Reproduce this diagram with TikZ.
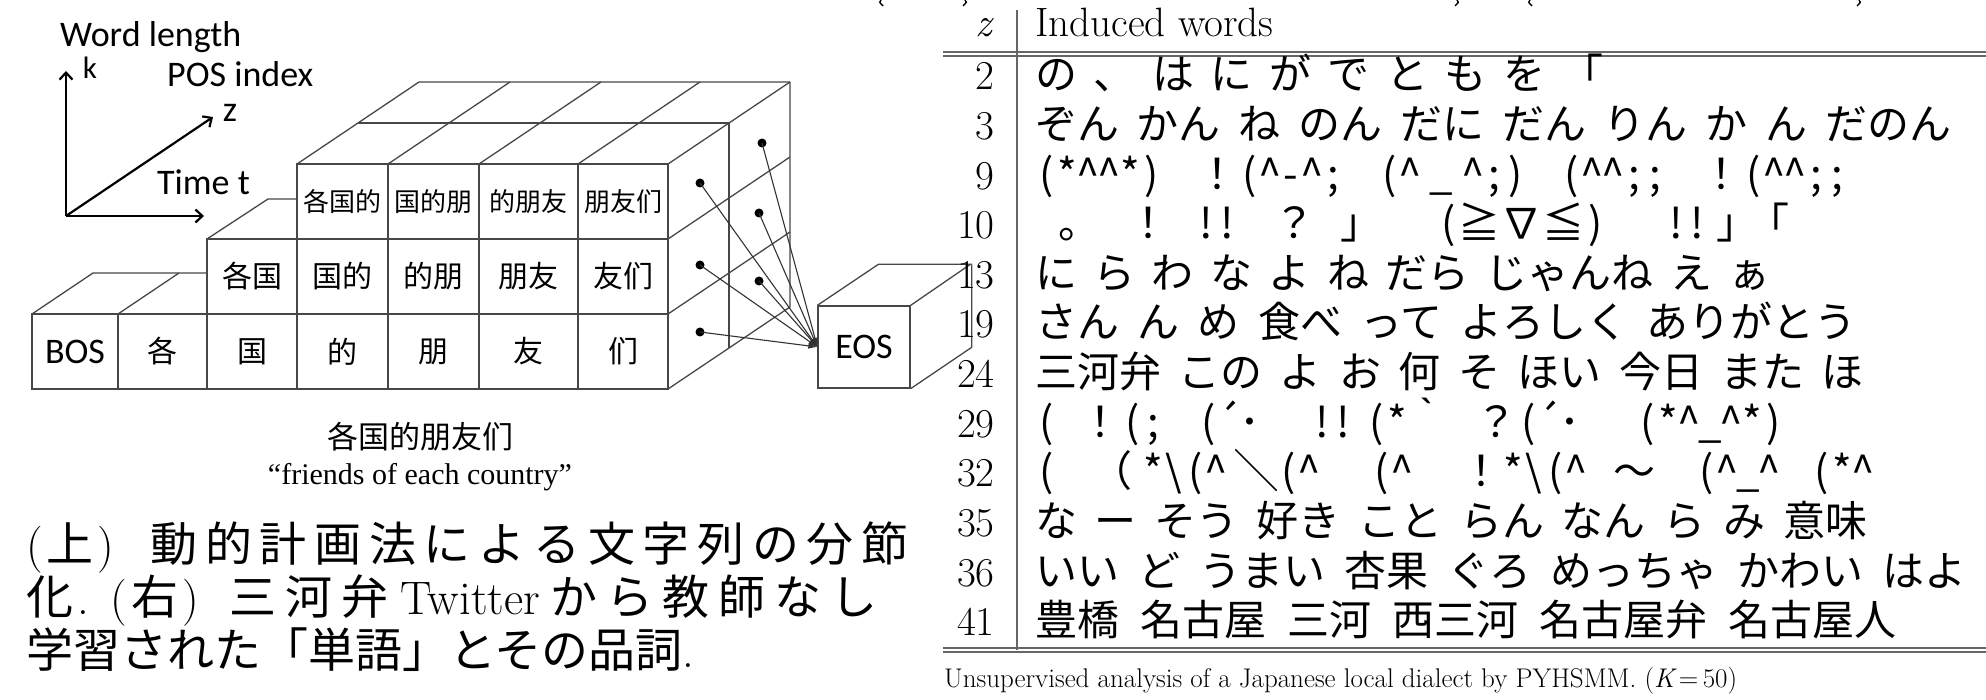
\documentclass[tikz,border=0pt]{standalone}
\usepackage{fontspec}
\usetikzlibrary{arrows.meta}
\newfontfamily\cjk{Noto Sans CJK SC}
\newfontfamily\jp{Noto Sans CJK JP}
\newfontfamily\calfont{Carlito}
\newfontfamily\tnr{Liberation Serif}
\newcommand\crt{\char"5E\relax}
\newcommand\gapA{\hspace{7.7pt}}
\newcommand\gapB{\hspace{9pt}}
\newcommand\sps[1]{\spaceskip=#1pt\relax\xspaceskip=#1pt\relax}
% fixed-width cells for the emoticon rows
\newcommand\fw[1]{\makebox[42pt]{#1}}
\def\hwloop#1{\ifx#1\relax\else\makebox[21pt]{#1}\expandafter\hwloop\fi}
\newcommand\hwl[1]{\hwloop#1\relax}
\newcommand\putat[2]{\makebox[0pt][l]{\hspace{#1pt}#2}}
\tikzset{
  cubeline/.style={draw=black!72, line width=1.3pt},
  cellbox/.style={cubeline, rectangle, inner sep=0pt, minimum height=75pt, font=\cjk\fontsize{30}{34}\selectfont},
  cellboxs/.style={cellbox, font=\cjk\fontsize{26}{30}\selectfont},
  axis/.style={line width=2.2pt, -{Straight Barb[length=7pt,width=13pt,line width=2.2pt]}},
  lab/.style={font=\calfont\fontsize{36}{40}\selectfont, inner sep=0pt},
  dot/.style={circle, fill=black, inner sep=0pt, minimum size=9pt},
  conn/.style={draw=black!80, line width=1.1pt, -{Latex[length=9pt,width=6pt]}},
  numcell/.style={font=\fontsize{41}{45}\selectfont, inner sep=0pt, anchor=base east},
  wordcell/.style={font=\jp\fontsize{42}{46}\selectfont, inner sep=0pt, anchor=base west},
  rule/.style={draw=black!60, line width=1.2pt},
  capline/.style={font=\fontsize{47}{53}\selectfont, inner sep=0pt, anchor=base west},
  frag/.style={draw=black, line width=1.4pt},
}
\begin{document}
\begin{tikzpicture}[x=1pt,y=-1pt]
\useasboundingbox (0,0) rectangle (1986,700);
% ---------- axes ----------
\coordinate (o) at (66,216);
\coordinate (ka) at (66,71);
\coordinate (ta) at (204,216);
\coordinate (za) at (213,117);
\draw[axis] (o) -- (ka);
\draw[axis] (o) -- (ta);
\draw[axis] (o) -- (za);
\node[lab, anchor=base west] (wl) at (60,47) {Word length};
\node[lab, anchor=base, font=\calfont\fontsize{31}{34}\selectfont] (kl) at (90,79) {k};
\node[lab, anchor=base west] (pl) at (167,87) {POS index};
\node[lab, anchor=base] (zl) at (230,122) {z};
\node[lab, anchor=base west] (tl) at (157,195) {Time t};
% ---------- row 1 ----------
\node[cellbox, minimum width=86pt, font=\calfont\fontsize{36}{40}\selectfont] (bos) at (75,351.5) {BOS};
\node[cellbox, minimum width=89pt] (r1c2) at (162.5,351.5) {各};
\node[cellbox, minimum width=90pt] (r1c3) at (252,351.5) {国};
\node[cellbox, minimum width=91pt] (r1c4) at (342.5,351.5) {的};
\node[cellbox, minimum width=91pt] (r1c5) at (433.5,351.5) {朋};
\node[cellbox, minimum width=99pt] (r1c6) at (528.5,351.5) {友};
\node[cellbox, minimum width=90pt] (r1c7) at (623,351.5) {们};
% ---------- row 2 ----------
\node[cellbox, minimum width=90pt] (r2c3) at (252,276.5) {各国};
\node[cellbox, minimum width=91pt] (r2c4) at (342.5,276.5) {国的};
\node[cellbox, minimum width=91pt] (r2c5) at (433.5,276.5) {的朋};
\node[cellbox, minimum width=99pt] (r2c6) at (528.5,276.5) {朋友};
\node[cellbox, minimum width=90pt] (r2c7) at (623,276.5) {友们};
% ---------- row 3 ----------
\node[cellboxs, minimum width=91pt] (r3c4) at (342.5,201.5) {各国的};
\node[cellboxs, minimum width=91pt] (r3c5) at (433.5,201.5) {国的朋};
\node[cellboxs, minimum width=99pt] (r3c6) at (528.5,201.5) {的朋友};
\node[cellboxs, minimum width=90pt] (r3c7) at (623,201.5) {朋友们};
% ---------- top faces ----------
\draw[cubeline] (297,164) -- (419,82) -- (790,82);
\draw[cubeline] (358,123) -- (729,123);
\draw[cubeline] (388,164) -- (510,82);
\draw[cubeline] (479,164) -- (601,82);
\draw[cubeline] (578,164) -- (700,82);
\draw[cubeline] (668,164) -- (790,82);
\draw[cubeline] (207,239) -- (268,199) -- (297,199);
\draw[cubeline] (32,314) -- (93,273) -- (207,273);
\draw[cubeline] (118,314) -- (179,273);
% ---------- right face ----------
\draw[cubeline] (668,389) -- (790,307) -- (790,82);
\draw[cubeline] (729,123) -- (729,348);
\draw[cubeline] (668,239) -- (790,157);
\draw[cubeline] (668,314) -- (790,232);
% ---------- EOS ----------
\node[cubeline, rectangle, inner sep=0pt, minimum width=92pt, minimum height=82pt,
      font=\calfont\fontsize{36}{40}\selectfont] (eos) at (864,347) {EOS};
\draw[cubeline] (eos.north west) -- ++(61,-41) -- ++(92,0) -- (eos.north east);
\draw[cubeline] (eos.north east) ++(61,-41) -- ++(0,83) -- (eos.south east);
% ---------- dots and connectors ----------
\node[dot] (p1) at (700,183) {};
\node[dot] (p2) at (762,143) {};
\node[dot] (p3) at (759,213) {};
\node[dot] (p4) at (700,265) {};
\node[dot] (p5) at (759,281) {};
\node[dot] (p6) at (700,332) {};
\foreach \p in {p1,p2,p3,p4,p5,p6} \draw[conn] (\p.center) -- (eos.west);
% ---------- cube caption ----------
\node[inner sep=0pt, font=\cjk\fontsize{31}{35}\selectfont] (cap1) at (420,437) {各国的朋友们};
\node[inner sep=0pt, anchor=base, font=\tnr\fontsize{30}{34}\selectfont] (cap2) at (420,484) {“friends of each country”};
% ---------- bottom-left caption ----------
\node[capline] (l1) at (26,561) {(\hspace{4pt}{\jp 上}\hspace{4pt})\hspace{36pt}{\jp 動\gapA 的\gapA 計\gapA 画\gapA 法\gapA に\gapA よ\gapA る\gapA 文\gapA 字\gapA 列\gapA の\gapA 分\gapA 節}};
\node[capline] (l2) at (26,614) {{\jp 化}\hspace{4pt}.\hspace{22pt}(\hspace{4pt}{\jp 右}\hspace{4pt})\hspace{30pt}{\jp 三\gapB 河\gapB 弁}\hspace{12pt}Twitter\hspace{10pt}{\jp か\gapB ら\gapB 教\gapB 師\gapB な\gapB し}};
\node[capline] (l3) at (26,667) {{\jp 学習された「単語」とその品詞}.};
% ---------- bottoms of a cut-off line above the table ----------
\draw[frag] (881,0) .. controls (879,2) .. (883,6);
\draw[frag] (965,0) .. controls (967,2) .. (963,6);
\draw[frag] (1457,0) .. controls (1459,2) .. (1455,6);
\draw[frag] (1530,0) .. controls (1528,2) .. (1532,6);
\draw[frag] (1859,0) .. controls (1861,2) .. (1857,6);
% ---------- table ----------
\draw[rule] (1017,10) -- (1017,650);
\draw[rule] (943,52) -- (1986,52);
\draw[rule] (943,56) -- (1986,56);
\draw[rule] (943,648) -- (1986,648);
\draw[rule] (943,652) -- (1986,652);
\node[numcell] (hz) at (992,37) {\itshape z};
\node[numcell, anchor=base west] (hw) at (1035,37) {Induced words};
\node[numcell] (n1) at (995,90) {2};
\node[wordcell] (w1) at (1035,90) {\sps{16.5}の 、 は に が で と も を 「};
\node[numcell] (n2) at (995,139.6) {3};
\node[wordcell] (w2) at (1035,139.6) {\sps{17.8}ぞん かん ね のん だに だん りん か ん だのん};
\node[numcell] (n3) at (995,189.2) {9};
\node[wordcell] (w3) at (1035,189.2) {\putat{0}{\hwl{(*\crt\crt*)}}\putat{161}{\fw{！}\hwl{(\crt-\crt;}}\putat{343}{\hwl{(\crt}\fw{\_}\hwl{\crt;)}}\putat{525}{\hwl{(\crt\crt;;}}\putat{665}{\fw{！}\hwl{(\crt\crt;;}}\hspace{812pt}};
\node[numcell] (n4) at (995,238.8) {10};
\node[wordcell] (w4) at (1035,238.8) {\putat{23}{\fw{。}}\putat{92}{\fw{！}}\putat{160}{\hwl{!!}}\putat{238}{\fw{？}}\putat{305}{\fw{」}}\putat{402}{\hwl{(}\fw{≧}\fw{∇}\fw{≦}\hwl{)}}\putat{630}{\hwl{!!}}\putat{681}{\fw{」}}\putat{712}{\fw{「}}\hspace{754pt}};
\node[numcell] (n5) at (995,288.4) {13};
\node[wordcell] (w5) at (1035,288.4) {\sps{16.4}に ら わ な よ ね だら じゃんね え ぁ};
\node[numcell] (n6) at (995,338) {19};
\node[wordcell] (w6) at (1035,338) {\sps{18.3}さん ん め 食べ って よろしく ありがとう};
\node[numcell] (n7) at (995,387.6) {24};
\node[wordcell] (w7) at (1035,387.6) {\sps{17.4}三河弁 この よ お 何 そ ほい 今日 また ほ};
\node[numcell] (n8) at (995,437.2) {29};
\node[wordcell] (w8) at (1035,437.2) {\putat{0}{\hwl{(}}\putat{44}{\fw{！}\hwl{(;}}\putat{162}{\hwl{(´･}}\putat{276}{\hwl{!!}}\putat{330}{\hwl{(*}\fw{｀}}\putat{440}{\fw{？}\hwl{(´･}}\putat{601}{\hwl{(*\crt\_\crt*)}}\hspace{748pt}};
\node[numcell] (n9) at (995,486.8) {32};
\node[wordcell] (w9) at (1035,486.8) {\putat{0}{\hwl{(}}\putat{55}{\fw{（}}\putat{107}{\hwl{*\textbackslash(\crt}}\putat{200}{\fw{╲}\hwl{(\crt}}\putat{335}{\hwl{(\crt}}\putat{425}{\fw{！}\hwl{*\textbackslash(\crt}}\putat{578}{\fw{〜}}\putat{660}{\hwl{(\crt\_\crt}}\putat{775}{\hwl{(*\crt}}\hspace{838pt}};
\node[numcell] (n10) at (995,536.4) {35};
\node[wordcell] (w10) at (1035,536.4) {\sps{17.8}な ー そう 好き こと らん なん ら み 意味};
\node[numcell] (n11) at (995,586) {36};
\node[wordcell] (w11) at (1035,586) {\sps{19}いい ど うまい 杏果 ぐろ めっちゃ かわい はよ};
\node[numcell] (n12) at (995,635.6) {41};
\node[wordcell] (w12) at (1035,635.6) {\sps{21}豊橋 名古屋 三河 西三河 名古屋弁 名古屋人};
\node[inner sep=0pt, anchor=base west, font=\fontsize{27}{30}\selectfont] (tcap) at (944,687) {Unsupervised analysis of a Japanese local dialect by PYHSMM. ({\itshape K}\,=\,50)};
\end{tikzpicture}
\end{document}
